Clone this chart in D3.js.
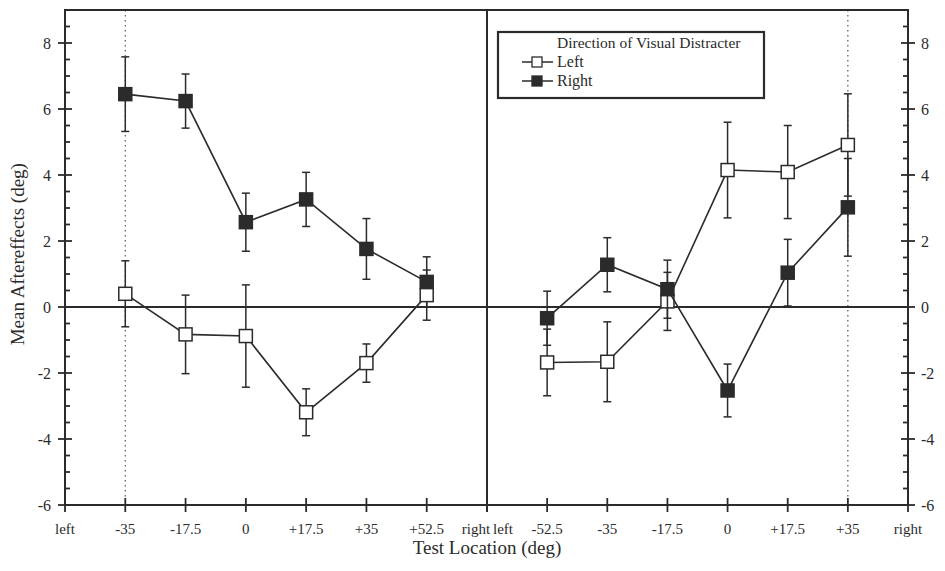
<!DOCTYPE html>
<html>
<head>
<meta charset="utf-8">
<style>
  body { margin: 0; background: #fff; }
  svg { display: block; font-family: "Liberation Serif", "DejaVu Serif", serif; }
</style>
</head>
<body>
<svg width="945" height="571"></svg>
<script src="https://d3js.org/d3.v7.min.js"></script>
<script>
// categories along each half of the x axis (end labels "left"/"right" included)
var leftPanelTicks  = ["left", "-35", "-17.5", "0", "+17.5", "+35", "+52.5", "right"];
var rightPanelTicks = ["left", "-52.5", "-35", "-17.5", "0", "+17.5", "+35", "right"];

var leftCats  = ["-35", "-17.5", "0", "+17.5", "+35", "+52.5"];
var rightCats = ["-52.5", "-35", "-17.5", "0", "+17.5", "+35"];

// left panel: distracter Left (open) / Right (filled)
var lpLeftMean  = [0.40, -0.83, -0.88, -3.19, -1.70, 0.36];
var lpLeftErr   = [1.00, 1.19, 1.55, 0.71, 0.58, 0.76];
var lpRightMean = [6.45, 6.24, 2.57, 3.26, 1.76, 0.76];
var lpRightErr  = [1.13, 0.82, 0.88, 0.82, 0.92, 0.76];

// right panel
var rpLeftMean  = [-1.68, -1.66, 0.17, 4.15, 4.09, 4.91];
var rpLeftErr   = [1.01, 1.21, 0.88, 1.45, 1.41, 1.55];
var rpRightMean = [-0.34, 1.28, 0.54, -2.53, 1.04, 3.02];
var rpRightErr  = [0.82, 0.82, 0.88, 0.80, 1.01, 1.48];

var yMajor = [-6, -4, -2, 0, 2, 4, 6, 8];
var yMinor = d3.range(-5.5, 9, 0.5).filter(function(v) { return v % 2 !== 0; });

var ink = "#2b2b2b";
var svg = d3.select("svg");

var x0 = 65, xm = 487, x1 = 908;
var y = d3.scaleLinear().domain([-6, 9]).range([505, 10]);
var xl = d3.scalePoint().domain(leftPanelTicks).range([x0, xm]);
var xr = d3.scalePoint().domain(rightPanelTicks).range([xm, x1]);

// dotted reference lines at the -35 (left) and +35 (right) locations
[xl("-35"), xr("+35")].forEach(function(px) {
  svg.append("line")
    .attr("x1", px).attr("x2", px)
    .attr("y1", y(9)).attr("y2", y(-6))
    .attr("stroke", "#555").attr("stroke-width", 1.2)
    .attr("stroke-dasharray", "1.5,3.5");
});

// frame, zero line, centre divider
var frame = svg.append("g").attr("stroke", ink).attr("stroke-width", 2).attr("fill", "none");
frame.append("rect").attr("x", x0).attr("y", y(9)).attr("width", x1 - x0).attr("height", y(-6) - y(9));
frame.append("line").attr("x1", x0).attr("x2", x1).attr("y1", y(0)).attr("y2", y(0));
frame.append("line").attr("x1", xm).attr("x2", xm).attr("y1", y(9)).attr("y2", y(-6));

// y ticks both sides
var ticks = svg.append("g").attr("stroke", ink).attr("stroke-width", 1.8);
yMajor.forEach(function(v) {
  ticks.append("line").attr("x1", x0 - 7).attr("x2", x0 + 7).attr("y1", y(v)).attr("y2", y(v));
  ticks.append("line").attr("x1", x1 - 7).attr("x2", x1 + 7).attr("y1", y(v)).attr("y2", y(v));
});
yMinor.forEach(function(v) {
  ticks.append("line").attr("x1", x0).attr("x2", x0 + 5).attr("y1", y(v)).attr("y2", y(v));
  ticks.append("line").attr("x1", x1 - 5).attr("x2", x1).attr("y1", y(v)).attr("y2", y(v));
});

svg.append("g").selectAll("text").data(yMajor).join("text")
  .attr("x", 51).attr("y", function(d) { return y(d); }).attr("dy", "0.35em")
  .attr("text-anchor", "end").attr("font-size", 16).attr("fill", ink)
  .text(function(d) { return d; });
svg.append("g").selectAll("text").data(yMajor).join("text")
  .attr("x", 921).attr("y", function(d) { return y(d); }).attr("dy", "0.35em")
  .attr("text-anchor", "start").attr("font-size", 16).attr("fill", ink)
  .text(function(d) { return d; });

// x ticks (cross the axis)
function xTicks(scale, cats, offsets) {
  cats.forEach(function(c) {
    ticks.append("line").attr("x1", scale(c)).attr("x2", scale(c))
      .attr("y1", y(-6) - 7).attr("y2", y(-6) + 7);
  });
  svg.append("g").selectAll("text").data(cats).join("text")
    .attr("x", function(d) { return scale(d) + (offsets[d] || 0); })
    .attr("y", 534)
    .attr("text-anchor", "middle").attr("font-size", 15).attr("fill", ink)
    .text(function(d) { return d; });
}
xTicks(xl, leftPanelTicks, { "right": -11 });
xTicks(xr, rightPanelTicks, { "left": 16 });

// axis titles
svg.append("text").attr("x", xm).attr("y", 554).attr("text-anchor", "middle")
  .attr("font-size", 19).attr("fill", ink).text("Test Location (deg)");
svg.append("text").attr("transform", "translate(24," + y(1.6) + ") rotate(-90)")
  .attr("text-anchor", "middle").attr("font-size", 19).attr("fill", ink)
  .text("Mean Aftereffects (deg)");

// series
function drawSeries(scale, cats, mean, err, filled) {
  var pts = cats.map(function(c, i) { return { x: scale(c), m: mean[i], e: err[i] }; });
  var g = svg.append("g");
  g.append("path")
    .attr("d", d3.line().x(function(d) { return d.x; }).y(function(d) { return y(d.m); })(pts))
    .attr("fill", "none").attr("stroke", ink).attr("stroke-width", 1.6);
  var eb = g.append("g").attr("stroke", ink).attr("stroke-width", 1.5);
  pts.forEach(function(d) {
    eb.append("line").attr("x1", d.x).attr("x2", d.x).attr("y1", y(d.m + d.e)).attr("y2", y(d.m - d.e));
    eb.append("line").attr("x1", d.x - 4).attr("x2", d.x + 4).attr("y1", y(d.m + d.e)).attr("y2", y(d.m + d.e));
    eb.append("line").attr("x1", d.x - 4).attr("x2", d.x + 4).attr("y1", y(d.m - d.e)).attr("y2", y(d.m - d.e));
  });
  g.selectAll("rect").data(pts).join("rect")
    .attr("x", function(d) { return d.x - 6.5; }).attr("y", function(d) { return y(d.m) - 6.5; })
    .attr("width", 13).attr("height", 13)
    .attr("fill", filled ? ink : "#fff").attr("stroke", ink).attr("stroke-width", 1.5);
}
drawSeries(xl, leftCats, lpRightMean, lpRightErr, true);
drawSeries(xl, leftCats, lpLeftMean, lpLeftErr, false);
drawSeries(xr, rightCats, rpLeftMean, rpLeftErr, false);
drawSeries(xr, rightCats, rpRightMean, rpRightErr, true);

// legend
var lg = svg.append("g");
lg.append("rect").attr("x", 498).attr("y", 32).attr("width", 266).attr("height", 66)
  .attr("fill", "#fff").attr("stroke", ink).attr("stroke-width", 2.2);
lg.append("text").attr("x", 557).attr("y", 48).attr("font-size", 15.5).attr("fill", ink)
  .text("Direction of Visual Distracter");
[["Left", false, 67], ["Right", true, 86]].forEach(function(it) {
  var cy = it[2] - 5;
  lg.append("line").attr("x1", 522).attr("x2", 553).attr("y1", cy).attr("y2", cy)
    .attr("stroke", ink).attr("stroke-width", 1.5);
  lg.append("rect").attr("x", 532).attr("y", cy - 5).attr("width", 10).attr("height", 10)
    .attr("fill", it[1] ? ink : "#fff").attr("stroke", ink).attr("stroke-width", 1.3);
  lg.append("text").attr("x", 557).attr("y", it[2]).attr("font-size", 16).attr("fill", ink).text(it[0]);
});
</script>
</body>
</html>
